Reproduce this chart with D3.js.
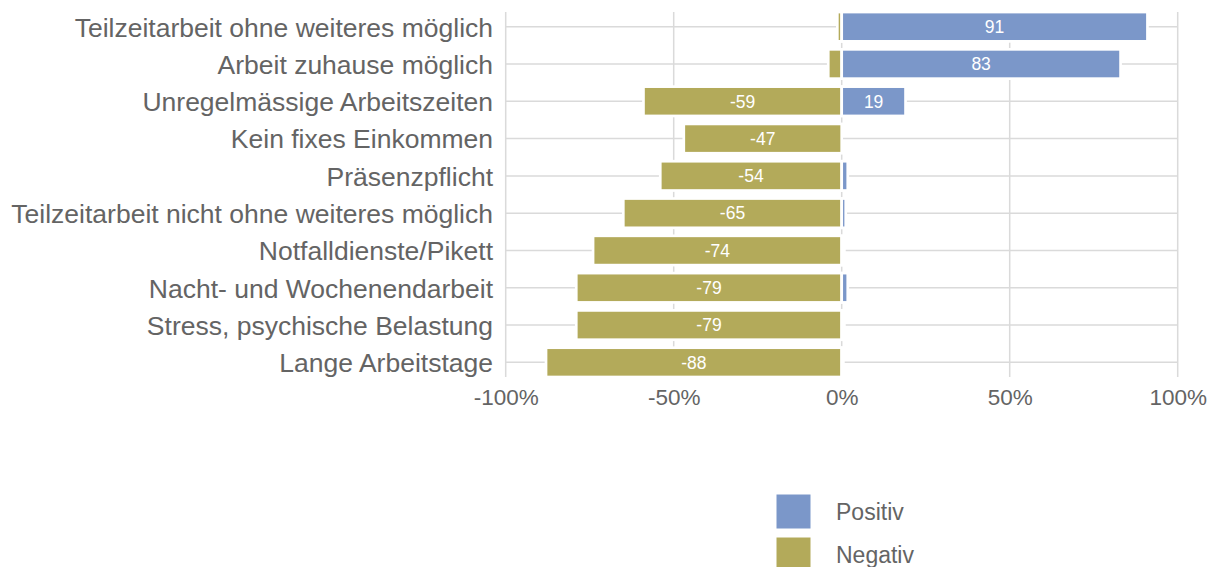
<!DOCTYPE html>
<html>
<head>
<meta charset="utf-8">
<script src="https://cdn.jsdelivr.net/npm/d3@7"></script>
<style>
  html, body { margin: 0; padding: 0; background: #fff; }
  svg { display: block; font-family: "Liberation Sans", Arial, Helvetica, sans-serif; }
</style>
</head>
<body>
<svg id="chart" width="1209" height="567"></svg>
<script>
const categories = [
  "Teilzeitarbeit ohne weiteres möglich",
  "Arbeit zuhause möglich",
  "Unregelmässige Arbeitszeiten",
  "Kein fixes Einkommen",
  "Präsenzpflicht",
  "Teilzeitarbeit nicht ohne weiteres möglich",
  "Notfalldienste/Pikett",
  "Nacht- und Wochenendarbeit",
  "Stress, psychische Belastung",
  "Lange Arbeitstage"
];
const positiveValues = [91, 83, 19, 0, 1.8, 1.2, 0.8, 1.8, 0.8, 0.5];
const negativeValues = [-1.3, -4, -59, -47, -54, -65, -74, -79, -79, -88];
const xTickValues = [-100, -50, 0, 50, 100];
const seriesNames = ["Positiv", "Negativ"];
const seriesColors = ["#7b97c9", "#b3aa5a"];

const svg = d3.select("#chart");
const textColor = "#646464";
const gridColor = "#dadada";

const x = d3.scaleLinear().domain([-100, 100]).range([505.7, 1177.7]);
const y = d3.scaleBand().domain(categories).range([8.05, 381]).paddingInner(0.214).paddingOuter(0.107);

const gridTop = y(categories[0]);
const gridBottom = y(categories[categories.length - 1]) + y.bandwidth();

// vertical grid
svg.append("g").selectAll("line").data(xTickValues).join("line")
  .attr("x1", d => x(d)).attr("x2", d => x(d))
  .attr("y1", gridTop).attr("y2", gridBottom)
  .attr("stroke", gridColor).attr("stroke-width", 1.5);

// horizontal grid
svg.append("g").selectAll("line").data(categories).join("line")
  .attr("x1", x(-100)).attr("x2", x(100))
  .attr("y1", d => y(d) + y.bandwidth() / 2).attr("y2", d => y(d) + y.bandwidth() / 2)
  .attr("stroke", gridColor).attr("stroke-width", 1.5);

const rows = categories.map((c, i) => ({ cat: c, pos: positiveValues[i], neg: negativeValues[i] }));
const bars = [];
rows.forEach(r => {
  bars.push({ cat: r.cat, v: r.neg, s: 1 });
  bars.push({ cat: r.cat, v: r.pos, s: 0 });
});

svg.append("g").selectAll("rect").data(bars).join("rect")
  .attr("x", d => Math.min(x(0), x(d.v)))
  .attr("width", d => Math.abs(x(d.v) - x(0)))
  .attr("y", d => y(d.cat))
  .attr("height", y.bandwidth())
  .attr("fill", d => seriesColors[d.s])
  .attr("stroke", "#fff").attr("stroke-width", 2.7);

svg.append("g").selectAll("text").data(bars.filter(d => Math.abs(d.v) >= 10)).join("text")
  .attr("x", d => (x(0) + x(d.v)) / 2)
  .attr("y", d => y(d.cat) + y.bandwidth() / 2)
  .attr("dy", "0.36em")
  .attr("text-anchor", "middle")
  .attr("fill", "#fff")
  .attr("font-size", "17.5px")
  .text(d => Math.round(d.v));

// x axis
const xAxis = svg.append("g").attr("transform", `translate(0,${gridBottom})`)
  .call(d3.axisBottom(x).tickValues(xTickValues).tickFormat(d => d + "%").tickSize(0).tickPadding(12.5));
xAxis.select(".domain").remove();
xAxis.selectAll("text").attr("fill", textColor).attr("font-size", "22.5px")
  .attr("font-family", "'Liberation Sans', Arial, Helvetica, sans-serif");

// y axis
const yAxis = svg.append("g").attr("transform", `translate(${x(-100)},0)`)
  .call(d3.axisLeft(y).tickSize(0).tickPadding(12.7));
yAxis.select(".domain").remove();
yAxis.selectAll("text").attr("fill", textColor).attr("font-size", "26.5px").attr("dy", "0.37em")
  .attr("font-family", "'Liberation Sans', Arial, Helvetica, sans-serif");

// legend
const legend = svg.append("g").attr("transform", "translate(776,494)");
const items = legend.selectAll("g").data(seriesNames).join("g")
  .attr("transform", (d, i) => `translate(0,${i * 43})`);
items.append("rect").attr("width", 35).attr("height", 35)
  .attr("fill", (d, i) => seriesColors[i]).attr("stroke", "#fff").attr("stroke-width", 1);
items.append("text").attr("x", 60).attr("y", 17.5).attr("dy", "0.36em")
  .attr("fill", textColor).attr("font-size", "23px").text(d => d);
</script>
</body>
</html>
